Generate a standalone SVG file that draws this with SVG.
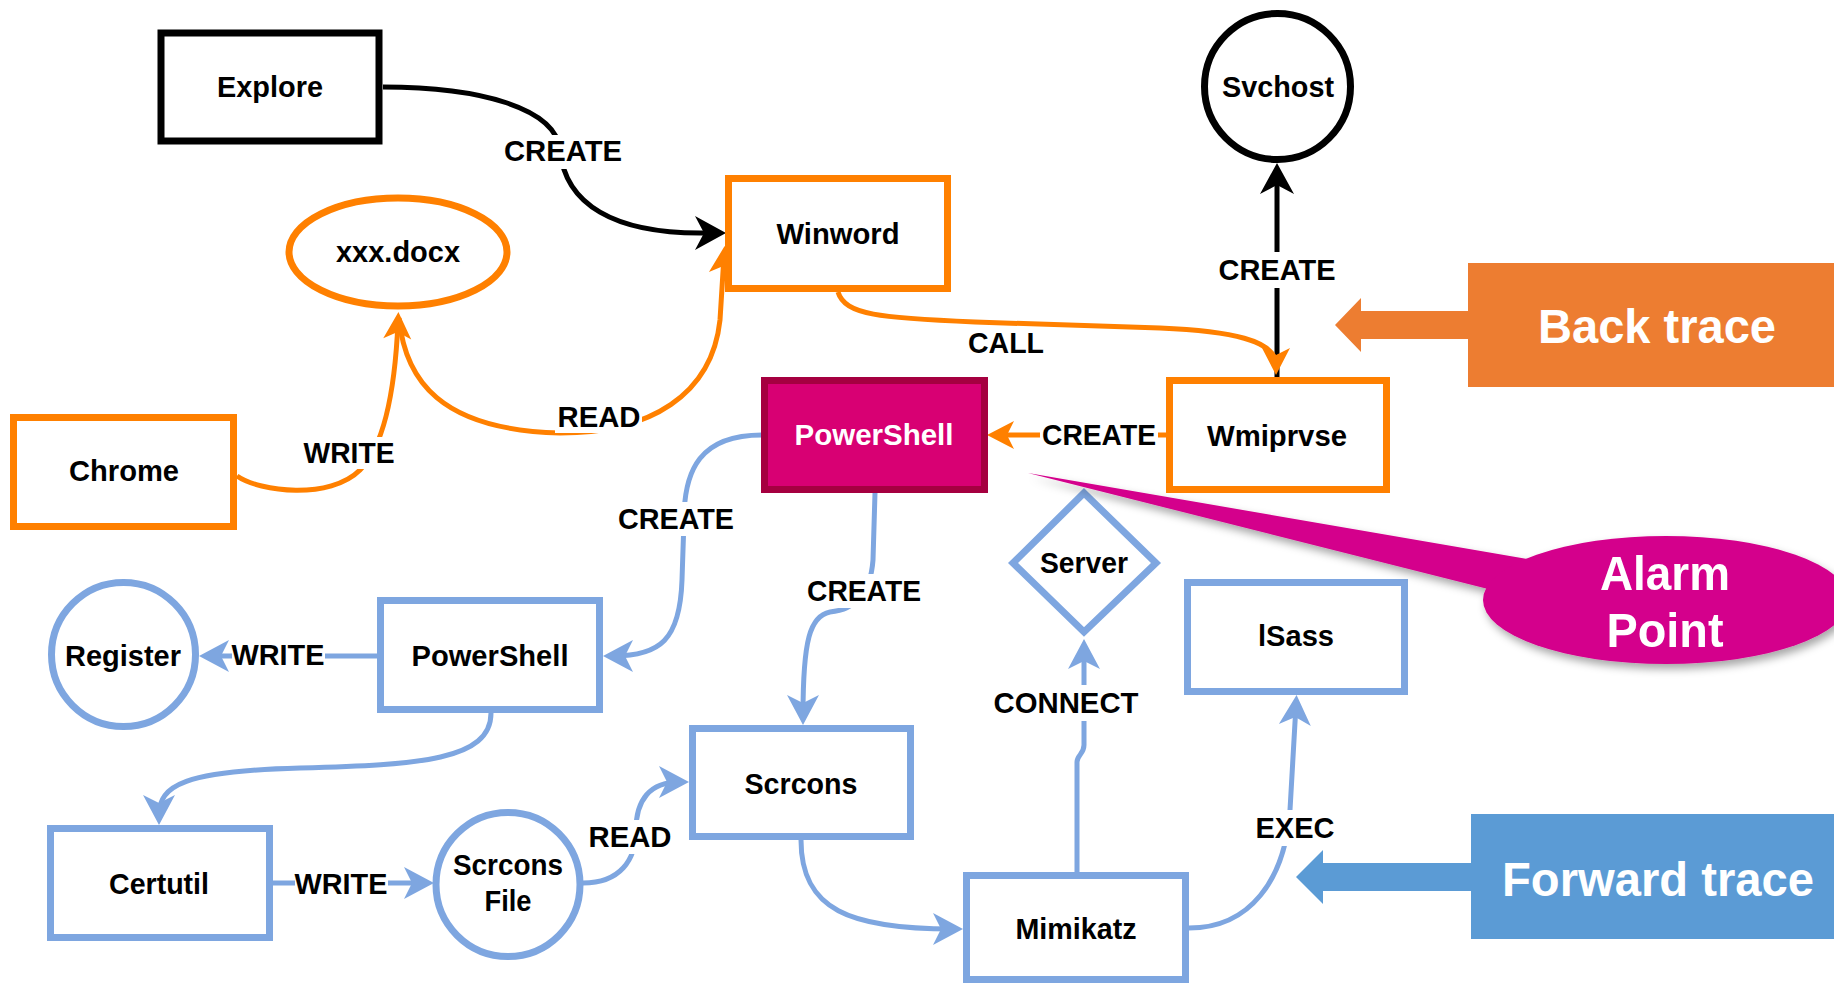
<svg xmlns="http://www.w3.org/2000/svg" width="1834" height="986" viewBox="0 0 1834 986">
<defs>
<style>
text { font-family: "Liberation Sans", Arial, sans-serif; font-weight: bold; font-size: 30px; fill: #000; text-anchor: middle; }
.ob { fill: #fff; stroke: #FF8000; stroke-width: 7; }
.bb { fill: #fff; stroke: #7EA6E0; stroke-width: 7; }
.kb { fill: #fff; stroke: #000; stroke-width: 7; }
.e { fill: none; stroke-width: 5; }
.ek { stroke: #000; }
.eo { stroke: #FF8000; }
.eb { stroke: #7EA6E0; }
.lbg { fill: #fff; }
.wt { fill: #fff; }
.big { fill: #fff; font-size: 48px; }
</style>
<marker id="ak" viewBox="-32 -18 34 36" refX="-10" refY="0" markerWidth="34" markerHeight="36" markerUnits="userSpaceOnUse" orient="auto">
<path d="M0 0 L-31 -17 L-22 0 L-31 17 Z" fill="#000"/>
</marker>
<marker id="ao" viewBox="-32 -18 34 36" refX="-10" refY="0" markerWidth="34" markerHeight="36" markerUnits="userSpaceOnUse" orient="auto">
<path d="M0 0 L-27 -14 L-20 0 L-27 14 Z" fill="#FF8000"/>
</marker>
<marker id="ab" viewBox="-32 -18 34 36" refX="-10" refY="0" markerWidth="34" markerHeight="36" markerUnits="userSpaceOnUse" orient="auto">
<path d="M0 0 L-30 -16 L-22 0 L-30 16 Z" fill="#7EA6E0"/>
</marker>
<filter id="sh" x="-10%" y="-20%" width="130%" height="150%">
<feDropShadow dx="3" dy="5" stdDeviation="4" flood-color="#000" flood-opacity="0.35"/>
</filter>
</defs>
<rect width="1834" height="986" fill="#fff"/>

<g id="connectors">
<path class="e ek" stroke-width="7" d="M 383 87 C 480 87, 556 108, 560 150 C 565 205, 615 233, 700 233 L 716 233" marker-end="url(#ak)"/>
<path class="e ek" d="M 1277 378 L 1277 173" marker-end="url(#ak)"/>
<path class="e eo" d="M 838 292 C 845 315, 880 318, 975 322 L 1160 328 C 1230 331, 1276 340, 1276 365" marker-end="url(#ao)"/>
<path class="e eo" d="M 1166 435 L 997 435" marker-end="url(#ao)"/>
<path class="e eo" d="M 399 318 C 405 380, 440 430, 560 433 C 650 433, 712 395, 720 320 L 724 256" marker-end="url(#ao)"/>
<path class="e eo" d="M 237 476 C 260 492, 330 500, 360 470 C 385 445, 395 390, 398 322" marker-end="url(#ao)"/>
<path class="e eb" d="M 762 435 C 700 435, 684 470, 684 520 L 682 580 C 680 640, 660 656, 613 656" marker-end="url(#ab)"/>
<path class="e eb" d="M 377 656 L 209 656" marker-end="url(#ab)"/>
<path class="e eb" d="M 491 713 C 491 760, 420 765, 300 768 C 185 771, 159 785, 159 815" marker-end="url(#ab)"/>
<path class="e eb" d="M 273 883 L 424 883" marker-end="url(#ab)"/>
<path class="e eb" d="M 583 883 C 620 883, 636 860, 636 830 C 636 800, 650 782, 679 782" marker-end="url(#ab)"/>
<path class="e eb" d="M 875 493 L 873 560 C 870 600, 850 610, 830 612 C 810 616, 803 640, 803 715" marker-end="url(#ab)"/>
<path class="e eb" d="M 801 840 C 801 910, 850 929, 953 929" marker-end="url(#ab)"/>
<path class="e eb" d="M 1077 872 L 1077 762 C 1077 755, 1084 754, 1084 745 L 1084 649" marker-end="url(#ab)"/>
<path class="e eb" d="M 1189 928 C 1250 928, 1285 880, 1290 810 L 1296 705" marker-end="url(#ab)"/>

<rect class="lbg" x="502" y="135" width="122" height="34"/>
<text x="563" y="161" textLength="118" lengthAdjust="spacingAndGlyphs">CREATE</text>
<text x="1006" y="353" textLength="76" lengthAdjust="spacingAndGlyphs">CALL</text>
<rect class="lbg" x="1216" y="252" width="122" height="36"/>
<text x="1277" y="280" textLength="117" lengthAdjust="spacingAndGlyphs">CREATE</text>
<rect class="lbg" x="1040" y="419" width="118" height="32"/>
<text x="1099" y="445" textLength="114" lengthAdjust="spacingAndGlyphs">CREATE</text>
<rect class="lbg" x="555" y="401" width="87" height="32"/>
<text x="599" y="427" textLength="83" lengthAdjust="spacingAndGlyphs">READ</text>
<rect class="lbg" x="302" y="437" width="95" height="32"/>
<text x="349" y="463" textLength="91" lengthAdjust="spacingAndGlyphs">WRITE</text>
<rect class="lbg" x="616" y="502" width="120" height="34"/>
<text x="676" y="529" textLength="116" lengthAdjust="spacingAndGlyphs">CREATE</text>
<rect class="lbg" x="805" y="574" width="118" height="34"/>
<text x="864" y="601" textLength="114" lengthAdjust="spacingAndGlyphs">CREATE</text>
<rect class="lbg" x="232" y="639" width="93" height="32"/>
<text x="278" y="665" textLength="93" lengthAdjust="spacingAndGlyphs">WRITE</text>
<rect class="lbg" x="295" y="868" width="93" height="32"/>
<text x="341" y="894" textLength="93" lengthAdjust="spacingAndGlyphs">WRITE</text>
<rect class="lbg" x="588" y="820" width="85" height="34"/>
<text x="630" y="847" textLength="83" lengthAdjust="spacingAndGlyphs">READ</text>
<rect class="lbg" x="992" y="685" width="148" height="36"/>
<text x="1066" y="713" textLength="145" lengthAdjust="spacingAndGlyphs">CONNECT</text>
<rect class="lbg" x="1254" y="810" width="83" height="36"/>
<text x="1295" y="838" textLength="79" lengthAdjust="spacingAndGlyphs">EXEC</text>
</g>

<g id="explore"><rect class="kb" x="161" y="33" width="218" height="108"/><text x="270" y="97" textLength="106" lengthAdjust="spacingAndGlyphs">Explore</text></g>
<g id="winword"><rect class="ob" x="728.5" y="178.5" width="219" height="110"/><text x="838" y="244" textLength="123" lengthAdjust="spacingAndGlyphs">Winword</text></g>
<g id="xxx-docx"><ellipse class="ob" cx="398" cy="252" rx="109" ry="54"/><text x="398" y="262" textLength="124" lengthAdjust="spacingAndGlyphs">xxx.docx</text></g>
<g id="svchost"><circle class="kb" cx="1277.5" cy="86.5" r="73"/><text x="1278" y="97" textLength="112" lengthAdjust="spacingAndGlyphs">Svchost</text></g>
<g id="chrome"><rect class="ob" x="13.5" y="417.5" width="220" height="109"/><text x="124" y="481" textLength="110" lengthAdjust="spacingAndGlyphs">Chrome</text></g>
<g id="powershell-alarm"><rect x="764.5" y="380.5" width="220" height="109" fill="#D80073" stroke="#A50040" stroke-width="7"/><text class="wt" x="874" y="445" textLength="159" lengthAdjust="spacingAndGlyphs">PowerShell</text></g>
<g id="wmiprvse"><rect class="ob" x="1169.5" y="380.5" width="217" height="109"/><text x="1277" y="446" textLength="140" lengthAdjust="spacingAndGlyphs">Wmiprvse</text></g>
<g id="powershell"><rect class="bb" x="380.5" y="600.5" width="219" height="109"/><text x="490" y="666" textLength="157" lengthAdjust="spacingAndGlyphs">PowerShell</text></g>
<g id="register"><circle class="bb" cx="123.5" cy="654.5" r="72"/><text x="123" y="666" textLength="116" lengthAdjust="spacingAndGlyphs">Register</text></g>
<g id="certutil"><rect class="bb" x="50.5" y="828.5" width="219" height="109"/><text x="159" y="894" textLength="100" lengthAdjust="spacingAndGlyphs">Certutil</text></g>
<g id="scrcons-file"><circle class="bb" cx="508" cy="884.5" r="72"/><text x="508" y="875" textLength="110" lengthAdjust="spacingAndGlyphs">Scrcons</text><text x="508" y="911" textLength="47" lengthAdjust="spacingAndGlyphs">File</text></g>
<g id="scrcons"><rect class="bb" x="692.5" y="728.5" width="218" height="108"/><text x="801" y="794" textLength="113" lengthAdjust="spacingAndGlyphs">Scrcons</text></g>
<g id="server"><polygon class="bb" points="1084,493 1156,563 1084,632 1013,563"/><text x="1084" y="573" textLength="88" lengthAdjust="spacingAndGlyphs">Server</text></g>
<g id="lsass"><rect class="bb" x="1187.5" y="582.5" width="217" height="109"/><text x="1296" y="646" textLength="76" lengthAdjust="spacingAndGlyphs">lSass</text></g>
<g id="mimikatz"><rect class="bb" x="966.5" y="875.5" width="219" height="104"/><text x="1076" y="939" textLength="121" lengthAdjust="spacingAndGlyphs">Mimikatz</text></g>

<g id="back-trace">
<rect x="1468" y="263" width="366" height="124" fill="#ED7D31"/>
<polygon points="1469,311 1361,311 1361,298 1335,325 1361,352 1361,339 1469,339" fill="#ED7D31"/>
<text class="big" x="1657" y="343" textLength="238" lengthAdjust="spacingAndGlyphs">Back trace</text>
</g>
<g id="forward-trace">
<rect x="1471" y="814" width="363" height="125" fill="#5B9BD5"/>
<polygon points="1472,863 1323,863 1323,850 1296,877 1323,904 1323,891 1472,891" fill="#5B9BD5"/>
<text class="big" x="1658" y="896" textLength="312" lengthAdjust="spacingAndGlyphs">Forward trace</text>
</g>
<g id="alarm-point" filter="url(#sh)">
<polygon points="1028,473 1545,562 1500,592" fill="#D4008C"/>
<ellipse cx="1666" cy="600" rx="183" ry="64" fill="#D4008C"/>
<text class="big" x="1665" y="590" font-size="46" textLength="130" lengthAdjust="spacingAndGlyphs">Alarm</text>
<text class="big" x="1665" y="647" font-size="46" textLength="117" lengthAdjust="spacingAndGlyphs">Point</text>
</g>
</svg>
